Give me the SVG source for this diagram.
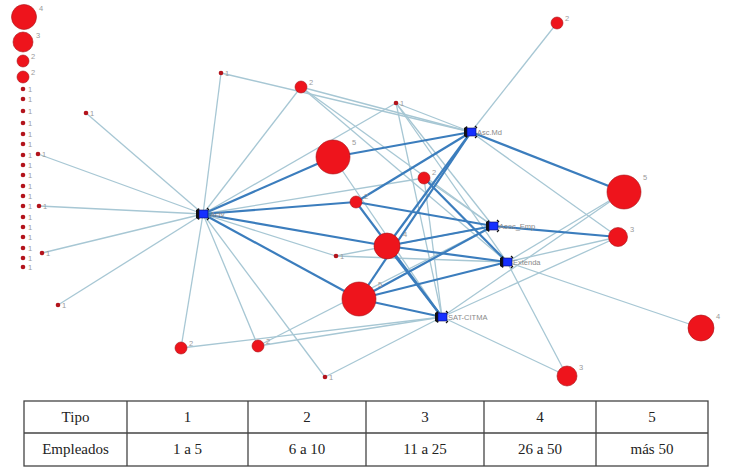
<svg xmlns="http://www.w3.org/2000/svg" xmlns:xlink="http://www.w3.org/1999/xlink" width="731" height="472" viewBox="0 0 731 472">
<style>
.t{stroke:#a7c7d4;stroke-width:1.3;fill:none}
.k{stroke:#3b7dbd;stroke-width:2.2;fill:none}
.r{fill:#ee141c;stroke:#a8141a;stroke-width:0.6}
.d{fill:#b3141c}
.l{font-family:"Liberation Sans",Arial,sans-serif;font-size:7.5px;fill:#9a9a9a}
.h{font-family:"Liberation Sans",Arial,sans-serif;font-size:7.5px;fill:#8a8a8a}
.tb{stroke:#444;stroke-width:1.3;fill:none}
.tx{font-family:"Liberation Serif","Times New Roman",serif;font-size:15px;fill:#222;text-anchor:middle}
</style>
<defs>
<g id="hub">
<path d="M-7,-4 L-4,-6 L-3,-2 L-3,3 L-4,6 L-7,4 Z" fill="#111"/>
<rect x="-4" y="-4" width="9" height="8" fill="#1530ff" stroke="#0a0a60" stroke-width="0.6"/>
<path d="M4,-6 L6,-4 M4,6 L6,4" stroke="#111" stroke-width="1.2"/>
</g>
</defs>
<rect width="731" height="472" fill="#fff"/>
<g id="connectors">
<g class="t-edges">
<line class="t" x1="203" y1="214" x2="221" y2="73"/>
<line class="t" x1="203" y1="214" x2="301" y2="87"/>
<line class="t" x1="203" y1="214" x2="86" y2="113"/>
<line class="t" x1="203" y1="214" x2="38" y2="154"/>
<line class="t" x1="203" y1="214" x2="39" y2="206"/>
<line class="t" x1="203" y1="214" x2="42" y2="253"/>
<line class="t" x1="203" y1="214" x2="58" y2="305"/>
<line class="t" x1="203" y1="214" x2="181" y2="348"/>
<line class="t" x1="203" y1="214" x2="258" y2="346"/>
<line class="t" x1="203" y1="214" x2="325" y2="377"/>
<line class="t" x1="203" y1="214" x2="336" y2="256"/>
<line class="t" x1="203" y1="214" x2="396" y2="103"/>
<line class="t" x1="203" y1="214" x2="424" y2="178"/>
<line class="t" x1="221" y1="73" x2="471" y2="132"/>
<line class="t" x1="301" y1="87" x2="471" y2="132"/>
<line class="t" x1="301" y1="87" x2="507" y2="262"/>
<line class="t" x1="301" y1="87" x2="493" y2="226"/>
<line class="t" x1="396" y1="103" x2="471" y2="132"/>
<line class="t" x1="396" y1="103" x2="507" y2="262"/>
<line class="t" x1="396" y1="103" x2="493" y2="226"/>
<line class="t" x1="396" y1="103" x2="442" y2="317"/>
<line class="t" x1="557" y1="23" x2="471" y2="132"/>
<line class="t" x1="471" y1="132" x2="618" y2="237"/>
<line class="t" x1="333" y1="157" x2="442" y2="317"/>
<line class="t" x1="336" y1="256" x2="507" y2="262"/>
<line class="t" x1="336" y1="256" x2="493" y2="226"/>
<line class="t" x1="424" y1="178" x2="442" y2="317"/>
<line class="t" x1="424" y1="178" x2="493" y2="226"/>
<line class="t" x1="624" y1="192" x2="507" y2="262"/>
<line class="t" x1="624" y1="192" x2="442" y2="317"/>
<line class="t" x1="618" y1="237" x2="507" y2="262"/>
<line class="t" x1="618" y1="237" x2="442" y2="317"/>
<line class="t" x1="507" y1="262" x2="701" y2="328"/>
<line class="t" x1="507" y1="262" x2="567" y2="376"/>
<line class="t" x1="442" y1="317" x2="567" y2="376"/>
<line class="t" x1="442" y1="317" x2="325" y2="377"/>
<line class="t" x1="442" y1="317" x2="181" y2="348"/>
<line class="t" x1="442" y1="317" x2="258" y2="346"/>
<line class="t" x1="258" y1="346" x2="493" y2="226"/>
</g>
<g class="k-edges">
<line class="k" x1="203" y1="214" x2="333" y2="157"/>
<line class="k" x1="203" y1="214" x2="356" y2="202"/>
<line class="k" x1="203" y1="214" x2="387" y2="246"/>
<line class="k" x1="203" y1="214" x2="359" y2="299"/>
<line class="k" x1="333" y1="157" x2="471" y2="132"/>
<line class="k" x1="356" y1="202" x2="471" y2="132"/>
<line class="k" x1="387" y1="246" x2="471" y2="132"/>
<line class="k" x1="359" y1="299" x2="471" y2="132"/>
<line class="k" x1="356" y1="202" x2="493" y2="226"/>
<line class="k" x1="356" y1="202" x2="442" y2="317"/>
<line class="k" x1="424" y1="178" x2="507" y2="262"/>
<line class="k" x1="387" y1="246" x2="493" y2="226"/>
<line class="k" x1="387" y1="246" x2="507" y2="262"/>
<line class="k" x1="387" y1="246" x2="442" y2="317"/>
<line class="k" x1="359" y1="299" x2="493" y2="226"/>
<line class="k" x1="359" y1="299" x2="507" y2="262"/>
<line class="k" x1="359" y1="299" x2="442" y2="317"/>
<line class="k" x1="471" y1="132" x2="624" y2="192"/>
<line class="k" x1="493" y1="226" x2="618" y2="237"/>
</g>
</g>
<g id="legend-column">
<g id="lc1"><circle class="r" cx="24" cy="17" r="12.5"/><text class="l" x="39" y="11">4</text></g>
<g id="lc2"><circle class="r" cx="23" cy="42" r="10"/><text class="l" x="36" y="38">3</text></g>
<g id="lc3"><circle class="r" cx="23" cy="61" r="6"/><text class="l" x="31" y="59">2</text></g>
<g id="lc4"><circle class="r" cx="23" cy="77" r="6"/><text class="l" x="31" y="75">2</text></g>
<g id="lc-dots">
<circle class="d" cx="23" cy="89" r="2.3"/><text class="l" x="28" y="92">1</text>
<circle class="d" cx="23" cy="99" r="2.3"/><text class="l" x="28" y="102">1</text>
<circle class="d" cx="23" cy="111" r="2.3"/><text class="l" x="28" y="114">1</text>
<circle class="d" cx="23" cy="123" r="2.3"/><text class="l" x="28" y="126">1</text>
<circle class="d" cx="23" cy="134" r="2.3"/><text class="l" x="28" y="137">1</text>
<circle class="d" cx="23" cy="144" r="2.3"/><text class="l" x="28" y="147">1</text>
<circle class="d" cx="23" cy="155" r="2.3"/><text class="l" x="28" y="158">1</text>
<circle class="d" cx="23" cy="165" r="2.3"/><text class="l" x="28" y="168">1</text>
<circle class="d" cx="23" cy="175" r="2.3"/><text class="l" x="28" y="178">1</text>
<circle class="d" cx="23" cy="186" r="2.3"/><text class="l" x="28" y="189">1</text>
<circle class="d" cx="23" cy="196" r="2.3"/><text class="l" x="28" y="199">1</text>
<circle class="d" cx="23" cy="206" r="2.3"/><text class="l" x="28" y="209">1</text>
<circle class="d" cx="23" cy="217" r="2.3"/><text class="l" x="28" y="220">1</text>
<circle class="d" cx="23" cy="227" r="2.3"/><text class="l" x="28" y="230">1</text>
<circle class="d" cx="23" cy="237" r="2.3"/><text class="l" x="28" y="240">1</text>
<circle class="d" cx="23" cy="248" r="2.3"/><text class="l" x="28" y="251">1</text>
<circle class="d" cx="23" cy="258" r="2.3"/><text class="l" x="28" y="261">1</text>
<circle class="d" cx="23" cy="267" r="2.3"/><text class="l" x="28" y="270">1</text>
</g>
</g>
<g id="n-d1"><circle class="d" cx="221" cy="73" r="2.3"/><text class="l" x="225" y="76">1</text></g>
<g id="n-d2"><circle class="d" cx="86" cy="113" r="2.3"/><text class="l" x="90" y="116">1</text></g>
<g id="n-d3"><circle class="d" cx="38" cy="154" r="2.3"/><text class="l" x="42" y="157">1</text></g>
<g id="n-d4"><circle class="d" cx="39" cy="206" r="2.3"/><text class="l" x="43" y="209">1</text></g>
<g id="n-d5"><circle class="d" cx="42" cy="253" r="2.3"/><text class="l" x="46" y="256">1</text></g>
<g id="n-d6"><circle class="d" cx="58" cy="305" r="2.3"/><text class="l" x="62" y="308">1</text></g>
<g id="n-d7"><circle class="d" cx="396" cy="103" r="2.3"/><text class="l" x="400" y="106">1</text></g>
<g id="n-d8"><circle class="d" cx="336" cy="256" r="2.3"/><text class="l" x="340" y="259">1</text></g>
<g id="n-d9"><circle class="d" cx="325" cy="377" r="2.3"/><text class="l" x="329" y="380">1</text></g>
<g id="n-a"><circle class="r" cx="301" cy="87" r="6"/><text class="l" x="309" y="85">2</text></g>
<g id="n-b"><circle class="r" cx="333" cy="157" r="17"/><text class="l" x="352" y="145">5</text></g>
<g id="n-c"><circle class="r" cx="424" cy="178" r="6"/><text class="l" x="432" y="175">2</text></g>
<g id="n-e"><circle class="r" cx="356" cy="202" r="6"/><text class="l" x="364" y="199">2</text></g>
<g id="n-f"><circle class="r" cx="387" cy="246" r="13"/><text class="l" x="403" y="237">4</text></g>
<g id="n-g"><circle class="r" cx="359" cy="299" r="17"/><text class="l" x="378" y="287">5</text></g>
<g id="n-h"><circle class="r" cx="557" cy="23" r="6"/><text class="l" x="565" y="21">2</text></g>
<g id="n-i"><circle class="r" cx="624" cy="192" r="17"/><text class="l" x="643" y="180">5</text></g>
<g id="n-j"><circle class="r" cx="618" cy="237" r="9.5"/><text class="l" x="630" y="232">3</text></g>
<g id="n-k"><circle class="r" cx="701" cy="328" r="13"/><text class="l" x="716" y="319">4</text></g>
<g id="n-m"><circle class="r" cx="567" cy="376" r="10"/><text class="l" x="579" y="370">3</text></g>
<g id="n-n"><circle class="r" cx="181" cy="348" r="6"/><text class="l" x="189" y="346">2</text></g>
<g id="n-o"><circle class="r" cx="258" cy="346" r="6"/><text class="l" x="266" y="344">2</text></g>
<g id="hub-actv"><use xlink:href="#hub" x="203" y="214"/><text class="h" x="210" y="217">Actv</text></g>
<g id="hub-ascmd"><use xlink:href="#hub" x="471" y="132"/><text class="h" x="477" y="135">Asc.Md</text></g>
<g id="hub-asocemp"><use xlink:href="#hub" x="493" y="226"/><text class="h" x="499" y="229">Asoc_Emp</text></g>
<g id="hub-extenda"><use xlink:href="#hub" x="507" y="262"/><text class="h" x="513" y="265">Extenda</text></g>
<g id="hub-satcitma"><use xlink:href="#hub" x="442" y="317"/><text class="h" x="448" y="320">SAT-CITMA</text></g>
<g id="table">
<rect class="tb" x="24" y="401" width="684" height="65"/>
<line class="tb" x1="24" y1="433" x2="708" y2="433"/>
<line class="tb" x1="127" y1="401" x2="127" y2="466"/>
<line class="tb" x1="248" y1="401" x2="248" y2="466"/>
<line class="tb" x1="366" y1="401" x2="366" y2="466"/>
<line class="tb" x1="484" y1="401" x2="484" y2="466"/>
<line class="tb" x1="596" y1="401" x2="596" y2="466"/>
<text class="tx" x="75.5" y="422">Tipo</text>
<text class="tx" x="187.5" y="422">1</text>
<text class="tx" x="307" y="422">2</text>
<text class="tx" x="425" y="422">3</text>
<text class="tx" x="540" y="422">4</text>
<text class="tx" x="652" y="422">5</text>
<text class="tx" x="75.5" y="454">Empleados</text>
<text class="tx" x="187.5" y="454">1 a 5</text>
<text class="tx" x="307" y="454">6 a 10</text>
<text class="tx" x="425" y="454">11 a 25</text>
<text class="tx" x="540" y="454">26 a 50</text>
<text class="tx" x="652" y="454">más 50</text>
</g>
</svg>
